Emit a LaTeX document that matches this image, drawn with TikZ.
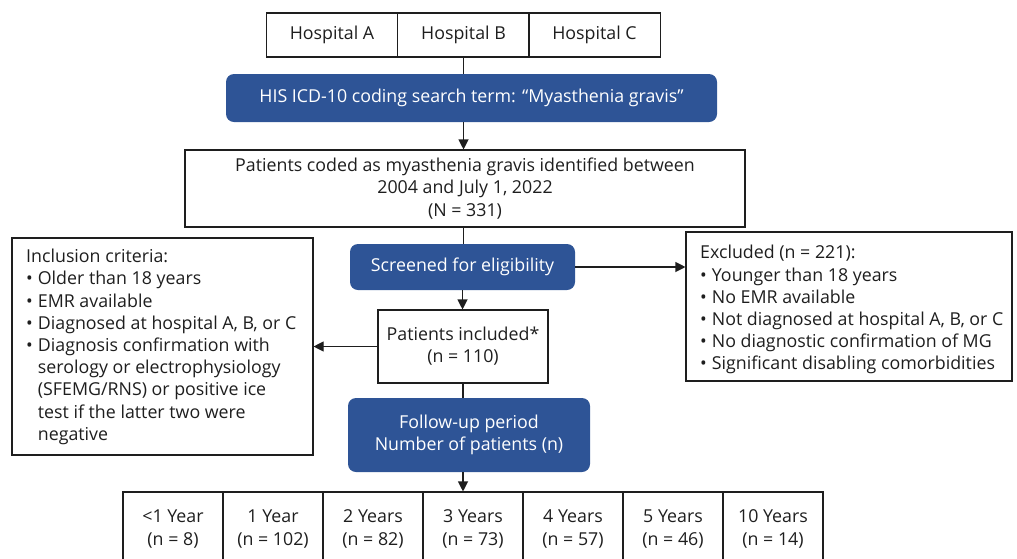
\documentclass[tikz,border=0pt]{standalone}
\usepackage{fontspec}
\setmainfont{Open Sans}
\usetikzlibrary{arrows.meta}
\definecolor{mgblue}{RGB}{46,84,150}
\definecolor{ink}{RGB}{30,30,30}
\newcommand{\fs}{\fontsize{17.8}{22.2}\selectfont}
\begin{document}
\begin{tikzpicture}[x=1pt,y=-1pt,
  box/.style={draw=ink, line width=1.1pt, inner sep=0pt, align=center, font=\fs, text=ink},
  bluebox/.style={fill=mgblue, draw=none, rounded corners=8pt, text=white, align=center, inner sep=0pt, font=\fs},
  plain/.style={inner sep=0pt, align=left, font=\fs, text=ink, anchor=west},
  conn/.style={draw=ink, line width=1.1pt},
  arr/.style={conn, -{Triangle[width=10pt,length=10pt]}}]
\useasboundingbox (0,0) rectangle (1017,558);
\clip (0,0) rectangle (1017,558);
% hospitals
\node[box, minimum width=131.5pt, minimum height=44pt] (hA) at (332,35) {Hospital A};
\node[box, minimum width=131.5pt, minimum height=44pt] (hB) at (463.5,35) {Hospital B};
\node[box, minimum width=131.5pt, minimum height=44pt] (hC) at (594.5,35) {Hospital C};
% HIS
\node[bluebox, minimum width=491pt, minimum height=48pt] (his) at (471.5,98) {HIS ICD-10 coding search term: “Myasthenia gravis”};
% coded
\node[box, minimum width=560pt, minimum height=77pt] (coded) at (465,188.5) {Patients coded as myasthenia gravis identified between\\2004 and July 1, 2022\\(N = 331)};
% screened
\node[bluebox, minimum width=225pt, minimum height=46pt] (scr) at (462.5,267) {Screened for eligibility};
% excluded
\node[box, minimum width=326pt, minimum height=149pt] (exc) at (849,306.5) {};
\node[plain] (exct) at (700,310) {%
\begin{tabular}{@{}l@{\hspace{5pt}}l@{}}
\multicolumn{2}{@{}l@{}}{Excluded (n = 221):}\\
•&Younger than 18 years\\
•&No EMR available\\
•&Not diagnosed at hospital A, B, or C\\
•&No diagnostic confirmation of MG\\
•&Significant disabling comorbidities
\end{tabular}};
% included
\node[box, minimum width=170pt, minimum height=73pt] (inc) at (463,346.5) {Patients included*\\(n = 110)};
% inclusion criteria
\node[box, minimum width=301pt, minimum height=217pt] (incl) at (162.5,346.5) {};
\node[plain] (inclt) at (26,347) {%
\begin{tabular}{@{}l@{\hspace{5pt}}l@{}}
\multicolumn{2}{@{}l@{}}{Inclusion criteria:}\\
•&Older than 18 years\\
•&EMR available\\
•&Diagnosed at hospital A, B, or C\\
•&Diagnosis confirmation with\\
&serology or electrophysiology\\
&(SFEMG/RNS) or positive ice\\
&test if the latter two were\\
&negative
\end{tabular}};
% follow-up
\node[bluebox, minimum width=242pt, minimum height=74pt] (fu) at (469,435) {Follow-up period\\Number of patients (n)};
% bottom cells
\node[box, minimum width=100pt, minimum height=74pt] (y0) at (173,529) {<1 Year\\(n = 8)};
\node[box, minimum width=100pt, minimum height=74pt] (y1) at (273,529) {1 Year\\(n = 102)};
\node[box, minimum width=100pt, minimum height=74pt] (y2) at (373,529) {2 Years\\(n = 82)};
\node[box, minimum width=100pt, minimum height=74pt] (y3) at (473,529) {3 Years\\(n = 73)};
\node[box, minimum width=100pt, minimum height=74pt] (y4) at (573,529) {4 Years\\(n = 57)};
\node[box, minimum width=100pt, minimum height=74pt] (y5) at (673,529) {5 Years\\(n = 46)};
\node[box, minimum width=100pt, minimum height=74pt] (y10) at (773,529) {10 Years\\(n = 14)};
% connectors
\draw[conn] (hB.south) -- (hB.south |- his.north);
\draw[arr] (hB.south |- his.south) -- (hB.south |- coded.north);
\draw[conn] (hB.south |- coded.south) -- (hB.south |- scr.north);
\draw[arr] (scr.east) -- (scr.east -| exc.west);
\draw[arr] (scr.south) -- (scr.south |- inc.north);
\draw[arr] (inc.west) -- (inc.west -| incl.east);
\draw[conn] (inc.south) -- (inc.south |- fu.north);
\draw[arr] (inc.south |- fu.south) -- (inc.south |- y3.north);
\end{tikzpicture}
\end{document}
